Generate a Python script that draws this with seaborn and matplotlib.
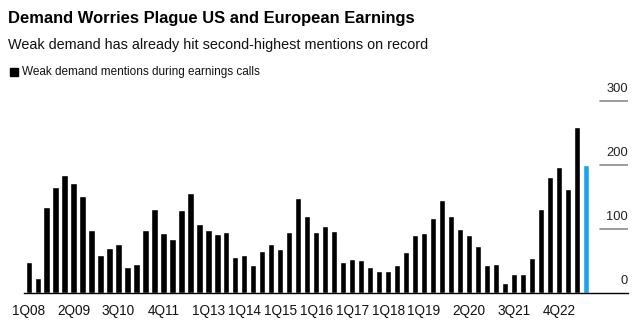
import matplotlib
matplotlib.use("Agg")
import matplotlib.pyplot as plt
import seaborn as sns
import pandas as pd

sns.set_theme(style="white")
plt.rcParams['font.family'] = ['Liberation Sans', 'DejaVu Sans']

# Quarterly data, 1Q08 .. 3Q23
years = list(range(2008, 2024))
quarters = [f"{q}Q{str(y)[2:]}" for y in years for q in range(1, 5)][:63]
values = [49, 24, 135, 165, 185, 172, 151, 99, 59, 71, 77, 40, 46, 99, 132, 93,
          85, 129, 156, 108, 99, 92, 95, 56, 59, 43, 66, 77, 68, 96, 148, 120,
          96, 105, 97, 49, 53, 51, 41, 34, 34, 44, 64, 90, 93, 117, 145, 120,
          100, 90, 73, 44, 46, 15, 30, 29, 55, 131, 182, 197, 162, 259, 200]
tick_labels = ["1Q08", "2Q09", "3Q10", "4Q11", "1Q13", "1Q14", "1Q15", "1Q16",
               "1Q17", "1Q18", "1Q19", "2Q20", "3Q21", "4Q22"]
y_ticks = [0, 100, 200, 300]

df = pd.DataFrame({"quarter": quarters, "value": values})
colors = ["#000000"] * (len(values) - 1) + ["#1AA3EE"]

W, H = 639, 323
fig = plt.figure(figsize=(W / 100, H / 100), dpi=100)
left, right = 24, 628
bottom, top_px = 293, 94.6
ax = fig.add_axes([left / W, 1 - bottom / H, (right - left) / W, (bottom - top_px) / H])

sns.barplot(data=df, x="quarter", y="value", hue="quarter", palette=colors,
            legend=False, width=0.7, ax=ax, saturation=1)

ax.set_xlim(-0.52, 66.7)
ax.set_ylim(0, 310)
ax.set_xlabel("")
ax.set_ylabel("")
for s in ["top", "right", "left"]:
    ax.spines[s].set_visible(False)
ax.spines["bottom"].set_color("black")
ax.spines["bottom"].set_linewidth(1.0)

pos = [quarters.index(t) for t in tick_labels]
ax.set_xticks(pos)
ax.set_xticklabels(tick_labels, fontsize=9.8)
ax.tick_params(axis="x", length=4, width=0.9, color="black", pad=4, labelcolor="#111111")
ax.set_yticks([])

frac = (600 - left) / (right - left)
for v in y_ticks:
    if v > 0:
        ax.axhline(v, xmin=frac, xmax=1, color="#8c8c8c", lw=1.2)
    ax.text(1.0, v + 9, str(v), transform=ax.get_yaxis_transform(),
            ha="right", va="bottom", fontsize=9.3, color="#222222")

fig.text(8 / W, 1 - 19 / H, "Demand Worries Plague US and European Earnings",
         fontsize=11.9, fontweight="bold", va="center", ha="left", color="black")
fig.text(8 / W, 1 - 45 / H, "Weak demand has already hit second-highest mentions on record",
         fontsize=10.4, va="center", ha="left", color="#111111")
fig.patches.append(plt.Rectangle((10 / W, 1 - 76 / H), 8 / W, 8 / H,
                                 transform=fig.transFigure, color="black", figure=fig))
fig.text(22 / W, 1 - 71.5 / H, "Weak demand mentions during earnings calls",
         fontsize=8.5, va="center", ha="left", color="#111111")

fig.savefig("out.png", dpi=100)
